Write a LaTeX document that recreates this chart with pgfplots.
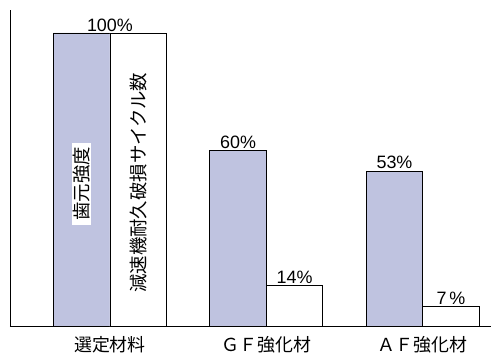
\documentclass[border=0pt]{standalone}
\usepackage{pgfplots}
\pgfplotsset{compat=1.18}
\usepackage{fontspec}
\setmainfont{Liberation Sans}
\newfontfamily\cjk{Noto Sans CJK JP}
\definecolor{barblue}{RGB}{191,195,224}
\begin{document}
\begin{tikzpicture}
\begin{axis}[
  scale only axis,
  width=481bp, height=317bp,
  at={(0,0)}, anchor=south west,
  xmin=-0.639, xmax=2.434,
  ymin=0, ymax=107.8,
  axis x line*=bottom, axis y line*=left,
  axis line style={line width=0.8bp},
  xtick={0,1,2},
  xticklabels={{選定材料},{ＧＦ強化材},{ＡＦ強化材}},
  xticklabel style={font=\cjk\fontsize{18}{18}\selectfont, anchor=center, yshift=-18bp},
  major tick length=0pt,
  ytick=\empty,
  ybar,
  bar width=56.5bp,
  nodes near coords,
  point meta=explicit symbolic,
  every node near coord/.append style={font=\fontsize{18}{18}\selectfont, inner sep=1.5bp, anchor=south},
  clip=false,
]
\addplot[bar shift=-28.25bp, fill=barblue, draw=black, line width=0.8bp] table[meta=l] {
x y l
0 100 {}
1 60 60\%
2 53 53\%
};
\addplot[bar shift=28.25bp, fill=white, draw=black, line width=0.8bp] table[meta=l] {
x y l
0 100 {}
1 14 14\%
2 7 {7\,\%}
};
\node[rotate=90, fill=white, inner xsep=4bp, inner ysep=1bp, font=\cjk\fontsize{18.5}{18.5}\selectfont] at ([xshift=-28.25bp]axis cs:0,48.6) {歯元強度};
\node[rotate=90, inner sep=0pt, font=\cjk\fontsize{18.5}{18.5}\selectfont] at ([xshift=28.25bp]axis cs:0,49) {減速機耐久破損サイクル数};
\node[anchor=south, inner sep=1.5bp, font=\fontsize{18}{18}\selectfont] at (axis cs:0,100) {100\%};
\end{axis}
\useasboundingbox (-10bp,-27bp) rectangle (481bp,327bp);
\end{tikzpicture}
\end{document}
